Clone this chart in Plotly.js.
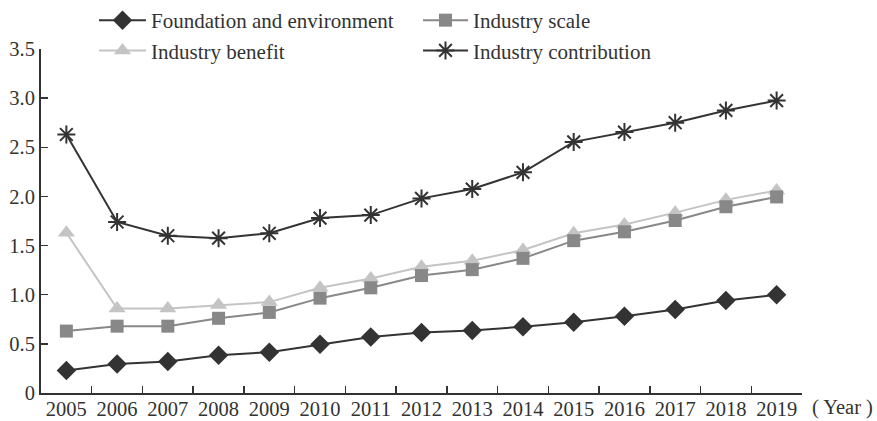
<!DOCTYPE html>
<html>
<head>
<meta charset="utf-8">
<script src="https://cdn.plot.ly/plotly-3.0.1.min.js"></script>
<style>html,body{margin:0;padding:0;background:#fff;}#chart{width:877px;height:421px;}</style>
</head>
<body>
<div id="chart"></div>
<script>
var years = ["2005","2006","2007","2008","2009","2010","2011","2012","2013","2014","2015","2016","2017","2018","2019"];
var foundation = [0.23,0.295,0.32,0.385,0.415,0.495,0.57,0.615,0.635,0.675,0.72,0.78,0.85,0.94,1.00];
var scale = [0.63,0.68,0.68,0.76,0.82,0.965,1.07,1.195,1.255,1.37,1.55,1.64,1.755,1.895,1.995];
var benefit = [1.63,0.86,0.86,0.895,0.925,1.07,1.165,1.285,1.345,1.455,1.625,1.715,1.835,1.965,2.06];
var contribution = [2.63,1.74,1.6,1.575,1.625,1.78,1.81,1.98,2.075,2.245,2.555,2.655,2.75,2.875,2.975];
var yTickVals = [0,0.5,1,1.5,2,2.5,3,3.5];
var yTickText = ["0","0.5","1.0","1.5","2.0","2.5","3.0","3.5"];

var FONT = "Liberation Serif, Times New Roman, serif";
var traces = [
  {x: years, y: foundation, name: "Foundation and environment", mode: "lines+markers", legend: "legend",
   line: {color: "#333333", width: 2}, marker: {symbol: "diamond", size: 15, color: "#333333"}},
  {x: years, y: benefit, name: "Industry benefit", mode: "lines+markers", legend: "legend",
   line: {color: "#c4c4c4", width: 2}, marker: {symbol: "triangle-up", size: 15, color: "#c4c4c4"}},
  {x: years, y: scale, name: "Industry scale", mode: "lines+markers", legend: "legend2",
   line: {color: "#888888", width: 2}, marker: {symbol: "square", size: 13, color: "#888888"}},
  {x: years, y: contribution, name: "Industry contribution", mode: "lines+markers", legend: "legend2",
   line: {color: "#333333", width: 2}, marker: {symbol: "asterisk", size: 15, color: "#333333", line: {color: "#333333", width: 2}}}
];

var legFont = {family: FONT, size: 21, color: "#333333"};
var layout = {
  width: 877, height: 421,
  margin: {l: 41, r: 75, t: 49, b: 28, autoexpand: false},
  paper_bgcolor: "#ffffff", plot_bgcolor: "#ffffff",
  font: {family: FONT, size: 20, color: "#333333"},
  showlegend: true,
  legend: {xref: "container", yref: "container", x: 94/877, y: 1.024, xanchor: "left", yanchor: "top", orientation: "v",
           itemwidth: 47, font: legFont, bgcolor: "rgba(0,0,0,0)", tracegroupgap: 0},
  legend2: {xref: "container", yref: "container", x: 418/877, y: 1.024, xanchor: "left", yanchor: "top", orientation: "v",
           itemwidth: 45, font: legFont, bgcolor: "rgba(0,0,0,0)", tracegroupgap: 0},
  xaxis: {type: "category", range: [-0.5, 14.5], tickson: "boundaries", ticks: "inside", ticklen: 7,
          tickwidth: 1.5, tickcolor: "#333333", showline: true, linecolor: "#333333", linewidth: 2,
          showgrid: false, zeroline: false, fixedrange: true, ticklabelstandoff: -4,
          tickfont: {family: FONT, size: 20.5, color: "#333333"}},
  yaxis: {range: [0, 3.5], tickvals: yTickVals, ticktext: yTickText, ticks: "inside", ticklen: 7,
          tickwidth: 1.5, tickcolor: "#333333", showline: true, linecolor: "#333333", linewidth: 2,
          showgrid: false, zeroline: false, fixedrange: true,
          tickfont: {family: FONT, size: 20.5, color: "#333333"}},
  annotations: [{text: "( Year )", xref: "paper", yref: "paper", x: 1.01, y: 0, xanchor: "left", yanchor: "top",
                 yshift: -1, showarrow: false, font: {family: FONT, size: 20.5, color: "#333333"}}]
};
Plotly.newPlot("chart", traces, layout, {displayModeBar: false, staticPlot: true});
</script>
</body>
</html>
